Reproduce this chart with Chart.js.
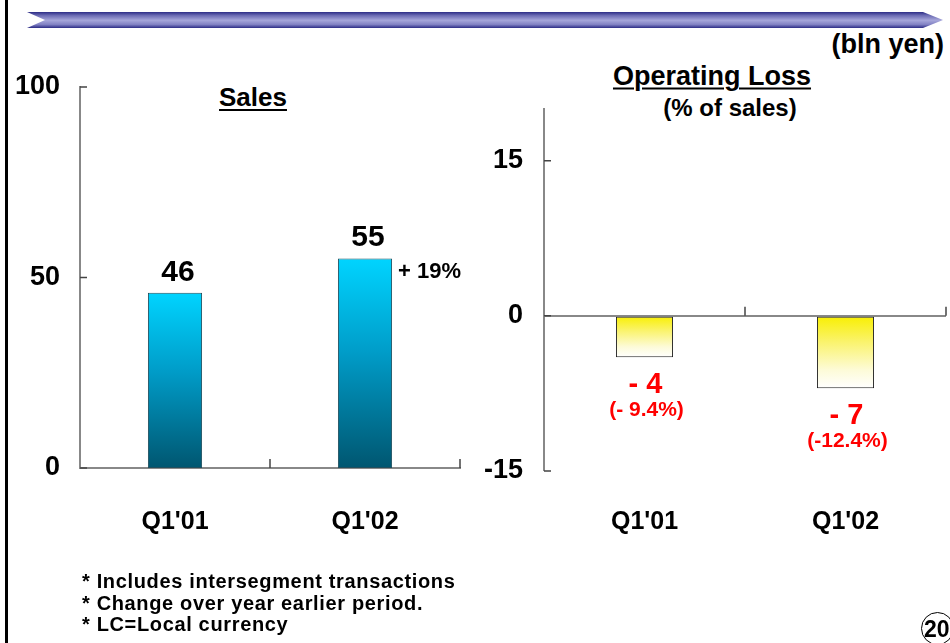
<!DOCTYPE html>
<html lang="en">
  <head>
    <meta charset="utf-8" />
    <title>Sales / Operating Loss</title>
    <style>
      html, body { margin: 0; padding: 0; background: #fff; }
      body {
        width: 950px; height: 643px; position: relative; overflow: hidden;
        font-family: 'Liberation Sans', Arial, sans-serif; font-weight: bold; color: #000;
      }
      .edge { position: absolute; left: 5px; top: 0; width: 3px; height: 643px; background: #000; }
      .banner {
        position: absolute; left: 27px; top: 12px; width: 916px; height: 16px;
        clip-path: polygon(0 0, 896px 0, 916px 50%, 896px 100%, 0 100%, 18px 50%);
        background: linear-gradient(to bottom, #2c2c86 0%, #6c6cb4 22%, #a6a6da 52%, #8282c4 78%, #2c2c86 100%);
      }
      .txt { position: absolute; white-space: nowrap; line-height: 1; }
      .c { transform: translate(-50%, -50%); }
      .u { text-decoration: underline; text-decoration-thickness: 2px; text-underline-offset: 3px; }
      .box { position: absolute; }
      .notes { position: absolute; left: 82px; top: 571px; font-size: 20px; letter-spacing: 0.65px; line-height: 21.5px; }
      .page {
        position: absolute; left: 921px; top: 612px; width: 31px; height: 31px;
        border: 1px solid #000; border-radius: 50%; font-size: 23px; line-height: 33px; text-indent: 2px;
      }
    </style>
  </head>
  <body>
    <div class="edge"></div>
    <div class="banner"></div>
    <div class="txt" style="right: 6px; top: 31px; font-size: 27px;">(bln yen)</div>

    <div class="txt c u" style="left: 253px; top: 97px; font-size: 26px;">Sales</div>
    <div class="txt c u" style="left: 712px; top: 76px; font-size: 27px;">Operating Loss</div>
    <div class="txt c" style="left: 730px; top: 108px; font-size: 24px;">(% of sales)</div>

    <div class="box" style="left: 0; top: 0; width: 480px; height: 643px;">
      <canvas id="salesChart"></canvas>
    </div>
    <div class="box" style="left: 480px; top: 0; width: 470px; height: 643px;">
      <canvas id="lossChart"></canvas>
    </div>

    <div class="notes">
      * Includes intersegment transactions<br />
      * Change over year earlier period.<br />
      * LC=Local currency
    </div>
    <div class="page">20</div>

    <script src="https://cdn.jsdelivr.net/npm/chart.js"></script>
    <script>
      const categories = ["Q1'01", "Q1'02"];
      const salesValues = [46, 55];
      const salesChange = '+ 19%';
      const salesTicks = [0, 50, 100];
      const lossValues = [-4, -7];
      const lossPct = ['(- 9.4%)', '(-12.4%)'];
      const lossTicks = [-15, 0, 15];

      const plain = "'Liberation Sans', Arial, sans-serif";

      // vertical gradient from the bar top down to the zero line
      function barFill(stops, fallback) {
        return function (ctx) {
          const chart = ctx.chart;
          if (!chart.chartArea || ctx.raw === undefined) return fallback;
          const y = chart.scales.y;
          const top = Math.min(y.getPixelForValue(ctx.raw), y.getPixelForValue(0));
          const bottom = Math.max(y.getPixelForValue(ctx.raw), y.getPixelForValue(0));
          const g = chart.ctx.createLinearGradient(0, top, 0, bottom);
          stops.forEach((s) => g.addColorStop(s[0], s[1]));
          return g;
        };
      }

      // small tick marks pointing into the plot, like the original
      const innerTicks = {
        id: 'innerTicks',
        afterDraw(chart) {
          const { ctx, chartArea, scales } = chart;
          const x = scales.x, y = scales.y;
          const zero = y.getPixelForValue(0);
          const half = (x.getPixelForValue(1) - x.getPixelForValue(0)) / 2;
          ctx.save();
          ctx.strokeStyle = '#444';
          ctx.lineWidth = 1.5;
          ctx.beginPath();
          y.ticks.forEach((t, i) => {
            const p = y.getPixelForTick(i);
            ctx.moveTo(chartArea.left, p);
            ctx.lineTo(chartArea.left + 7, p);
          });
          categories.forEach((c, i) => {
            const p = x.getPixelForValue(i) + half;
            ctx.moveTo(p, zero);
            ctx.lineTo(p, zero - 9);
          });
          ctx.stroke();
          ctx.restore();
        },
      };

      const salesLabels = {
        id: 'salesLabels',
        afterDatasetsDraw(chart) {
          const ctx = chart.ctx;
          const bars = chart.getDatasetMeta(0).data;
          ctx.save();
          ctx.fillStyle = '#000';
          ctx.font = 'bold 30px ' + plain;
          ctx.textAlign = 'center';
          ctx.textBaseline = 'alphabetic';
          bars.forEach((b, i) => ctx.fillText(String(salesValues[i]), b.x + 3, b.y - 12));
          const last = bars[bars.length - 1];
          ctx.font = 'bold 22px ' + plain;
          ctx.textAlign = 'left';
          ctx.textBaseline = 'middle';
          ctx.fillText(salesChange, last.x + last.width / 2 + 6, last.y + 13);
          ctx.restore();
        },
      };

      const lossLabels = {
        id: 'lossLabels',
        afterDatasetsDraw(chart) {
          const ctx = chart.ctx;
          const bars = chart.getDatasetMeta(0).data;
          ctx.save();
          ctx.fillStyle = '#ff0000';
          ctx.textAlign = 'center';
          ctx.textBaseline = 'middle';
          bars.forEach((b, i) => {
            ctx.font = 'bold 29px ' + plain;
            ctx.fillText('- ' + Math.abs(lossValues[i]), b.x + 1, b.y + 28);
            ctx.font = 'bold 21px ' + plain;
            ctx.fillText(lossPct[i], b.x + 2, b.y + 53);
          });
          ctx.restore();
        },
      };

      const tickFontY = { family: plain, size: 27, weight: 'bold' };
      const tickFontX = { family: plain, size: 25, weight: 'bold' };

      new Chart(document.getElementById('salesChart'), {
        type: 'bar',
        data: {
          labels: categories,
          datasets: [
            {
              data: salesValues,
              backgroundColor: barFill([[0, '#00d4ff'], [0.45, '#009cc8'], [1, '#005670']], '#00b0e0'),
              borderColor: '#1f4f5e',
              borderWidth: 1,
              borderSkipped: false,
              categoryPercentage: 1,
              barPercentage: 0.285,
            },
          ],
        },
        options: {
          responsive: true,
          maintainAspectRatio: false,
          animation: false,
          layout: { padding: { left: 0, top: 87, right: 20, bottom: 0 } },
          plugins: { legend: { display: false }, tooltip: { enabled: false } },
          scales: {
            x: {
              grid: { display: false, drawTicks: false },
              border: { display: true, color: '#888', width: 2 },
              ticks: { color: '#000', font: tickFontX, padding: 39 },
              afterFit(s) { s.height = 643 - 468; },
            },
            y: {
              min: 0,
              max: 100,
              afterBuildTicks(s) { s.ticks = salesTicks.map((v) => ({ value: v })); },
              grid: { display: false, drawTicks: false },
              border: { display: true, color: '#888', width: 2 },
              ticks: { color: '#000', font: tickFontY, padding: 20 },
              afterFit(s) { s.width = 80; },
            },
          },
        },
        plugins: [innerTicks, salesLabels],
      });

      new Chart(document.getElementById('lossChart'), {
        type: 'bar',
        data: {
          labels: categories,
          datasets: [
            {
              data: lossValues,
              backgroundColor: barFill([[0, '#f8ef00'], [0.35, '#faf36a'], [0.75, '#fdfbd8'], [1, '#ffffff']], '#f8f060'),
              borderColor: '#222',
              borderWidth: 1,
              borderSkipped: false,
              categoryPercentage: 1,
              barPercentage: 0.284,
            },
          ],
        },
        options: {
          responsive: true,
          maintainAspectRatio: false,
          animation: false,
          layout: { padding: { left: 0, top: 109, right: 4, bottom: 0 } },
          plugins: { legend: { display: false }, tooltip: { enabled: false } },
          scales: {
            x: {
              grid: { display: false, drawTicks: false },
              border: { display: false },
              ticks: { color: '#000', font: tickFontX, padding: 36 },
              afterFit(s) { s.height = 643 - 471; },
            },
            y: {
              min: -15,
              max: 20,
              afterBuildTicks(s) { s.ticks = lossTicks.map((v) => ({ value: v })); },
              grid: {
                drawTicks: false,
                color: (c) => (c.tick && c.tick.value === 0 ? '#888' : 'rgba(0,0,0,0)'),
                lineWidth: (c) => (c.tick && c.tick.value === 0 ? 2 : 0),
              },
              border: { display: true, color: '#888', width: 2 },
              ticks: { color: '#000', font: tickFontY, padding: 21 },
              afterFit(s) { s.width = 64; },
            },
          },
        },
        plugins: [innerTicks, lossLabels],
      });
    </script>
  </body>
</html>
